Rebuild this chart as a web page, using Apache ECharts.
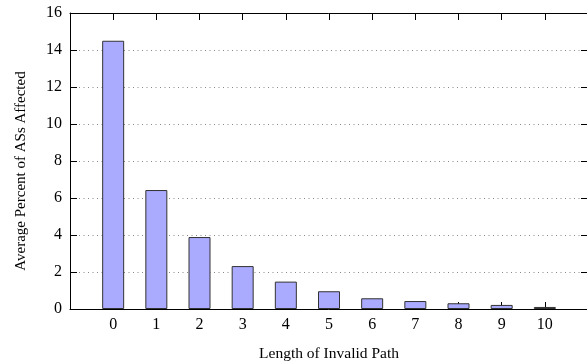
<!DOCTYPE html>
<html>
<head>
<meta charset="utf-8">
<script src="https://cdn.jsdelivr.net/npm/echarts@6/dist/echarts.min.js"></script>
<style>html,body{margin:0;padding:0;background:#fff}#c{width:587px;height:362px}</style>
</head>
<body>
<div id="c"></div>
<script>
const categories = [0, 1, 2, 3, 4, 5, 6, 7, 8, 9, 10];
const values = [14.5, 6.43, 3.89, 2.32, 1.48, 0.96, 0.58, 0.43, 0.31, 0.22, 0.11];
const yTicks = [0, 2, 4, 6, 8, 10, 12, 14, 16];

const font = 'Liberation Serif';
const barData = categories.map((c, i) => [c, values[i]]);

const chart = echarts.init(document.getElementById('c'));
chart.setOption({
  animation: false,
  grid: { left: 70, right: -1, top: 13, bottom: 53, outerBoundsMode: 'none', containLabel: false },
  xAxis: [{
    type: 'value', min: -1, max: 11, interval: 1,
    name: 'Length of Invalid Path', nameLocation: 'middle', nameGap: 37,
    nameTextStyle: { fontFamily: font, fontSize: 15.5, color: '#000' },
    axisLine: { onZero: false, lineStyle: { color: '#000', width: 1 } },
    axisTick: { inside: true, length: 7, lineStyle: { color: '#000' } },
    axisLabel: { fontFamily: font, fontSize: 16, color: '#000', margin: 8,
      formatter: v => (v >= categories[0] && v <= categories[categories.length - 1]) ? String(v) : '' },
    splitLine: { show: false }
  }, {
    type: 'value', min: -1, max: 11, interval: 1, position: 'top',
    axisLine: { show: true, onZero: false, lineStyle: { color: '#000', width: 1 } },
    axisTick: { show: true, inside: true, length: 7, lineStyle: { color: '#000' } },
    axisLabel: { show: false }, splitLine: { show: false }
  }],
  yAxis: [{
    type: 'value', min: yTicks[0], max: yTicks[yTicks.length - 1], interval: 2,
    name: 'Average Percent of ASs Affected', nameLocation: 'middle', nameGap: 41,
    nameTextStyle: { fontFamily: font, fontSize: 15, color: '#000', padding: [0, 20, 0, 0] },
    axisLine: { show: true, onZero: false, lineStyle: { color: '#000', width: 1 } },
    axisTick: { show: true, inside: true, length: 7, lineStyle: { color: '#000' } },
    axisLabel: { fontFamily: font, fontSize: 16, color: '#000', margin: 8 },
    splitLine: { show: true, lineStyle: { color: '#888', type: [1, 3.5], width: 1 } }
  }, {
    type: 'value', min: yTicks[0], max: yTicks[yTicks.length - 1], interval: 2, position: 'right',
    axisLine: { show: true, onZero: false, lineStyle: { color: '#000', width: 1 } },
    axisTick: { show: true, inside: true, length: 7, lineStyle: { color: '#000' } },
    axisLabel: { show: false }, splitLine: { show: false }
  }],
  series: [{
    type: 'bar', data: barData, barWidth: 22,
    itemStyle: { color: '#aaaaff', borderColor: '#333', borderWidth: 1 },
    z: 3
  }]
});
</script>
</body>
</html>
